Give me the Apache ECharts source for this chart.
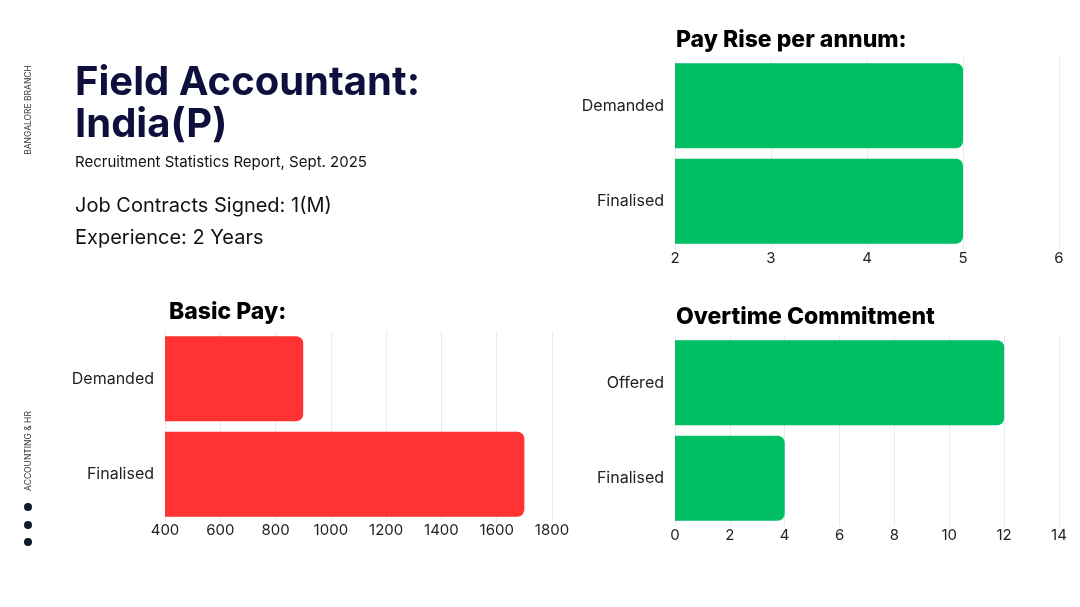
<!DOCTYPE html>
<html>
<head>
<meta charset="utf-8">
<script src="https://cdn.jsdelivr.net/npm/echarts@6/dist/echarts.min.js"></script>
<style>
  html, body { margin: 0; padding: 0; background: #fff; }
  #chart { width: 1080px; height: 607px; }
</style>
</head>
<body>
<div id="chart"></div>
<script>
// data
const payRiseCats = ['Demanded', 'Finalised'];
const payRiseValues = [5, 5];
const basicPayCats = ['Demanded', 'Finalised'];
const basicPayValues = [900, 1700];
const overtimeCats = ['Offered', 'Finalised'];
const overtimeValues = [12, 4];

const FONT = 'Inter, "Noto Sans", sans-serif';
const GREEN = '#00bf63';
const RED = '#ff3333';
const NAVY = '#0e0f3d';

function valueAxis(grid, min, max, interval, margin) {
    return {
        type: 'value', gridIndex: grid, min: min, max: max, interval: interval,
        axisLine: { show: false }, axisTick: { show: false },
        axisLabel: { color: '#222', fontSize: 15, fontFamily: FONT, margin: margin, formatter: (v) => String(v) },
        splitLine: { show: true, lineStyle: { color: '#ebebeb', width: 1 } }
    };
}
function catAxis(grid, cats) {
    return {
        type: 'category', gridIndex: grid, data: cats, inverse: true,
        axisLine: { show: false }, axisTick: { show: false },
        axisLabel: { color: '#222', fontSize: 16, fontFamily: FONT, margin: 11 }
    };
}
function barSeries(idx, values, color) {
    return {
        type: 'bar', xAxisIndex: idx, yAxisIndex: idx, data: values,
        barWidth: 85, itemStyle: { color: color, borderRadius: [0, 7, 7, 0] },
        silent: true
    };
}
function txt(x, y, text, size, weight, color, extra) {
    return Object.assign({
        type: 'text', x: x, y: y,
        style: { text: text, fontSize: size, fontWeight: weight, fontFamily: FONT, fill: color, textVerticalAlign: 'middle' }
    }, extra || {});
}

const chart = echarts.init(document.getElementById('chart'));
chart.setOption({
    animation: false,
    grid: [
        { left: 675, right: 21, top: 58, height: 191 },
        { left: 165, right: 528, top: 331, height: 191 },
        { left: 675, right: 21, top: 335, height: 191 }
    ],
    xAxis: [
        valueAxis(0, 2, 6, 1, 2),
        valueAxis(1, 400, 1800, 200, 1),
        valueAxis(2, 0, 14, 2, 2)
    ],
    yAxis: [
        catAxis(0, payRiseCats),
        catAxis(1, basicPayCats),
        catAxis(2, overtimeCats)
    ],
    series: [
        barSeries(0, payRiseValues, GREEN),
        barSeries(1, basicPayValues, RED),
        barSeries(2, overtimeValues, GREEN)
    ],
    graphic: [
        txt(75, 83, 'Field Accountant:', 40, 700, NAVY),
        txt(75, 125, 'India(P)', 40, 700, NAVY),
        txt(75, 162, 'Recruitment Statistics Report, Sept. 2025', 15, 400, '#111'),
        txt(75, 206, 'Job Contracts Signed: 1(M)', 20, 400, '#111'),
        txt(75, 238, 'Experience: 2 Years', 20, 400, '#111'),
        txt(676, 40, 'Pay Rise per annum:', 23, 800, '#000'),
        txt(169, 312, 'Basic Pay:', 23, 800, '#000'),
        txt(676, 317, 'Overtime Commitment', 23, 800, '#000'),
        {
            type: 'text', x: 28, y: 110, rotation: Math.PI / 2,
            style: { text: 'BANGALORE BRANCH', fontSize: 8.5, fontFamily: FONT, fill: '#333', align: 'center', verticalAlign: 'middle' }
        },
        {
            type: 'text', x: 28, y: 451, rotation: Math.PI / 2,
            style: { text: 'ACCOUNTING & HR', fontSize: 8.5, fontFamily: FONT, fill: '#333', align: 'center', verticalAlign: 'middle' }
        },
        { type: 'circle', shape: { cx: 28, cy: 507, r: 4 }, style: { fill: '#0d1b2e' } },
        { type: 'circle', shape: { cx: 28, cy: 525, r: 4 }, style: { fill: '#0d1b2e' } },
        { type: 'circle', shape: { cx: 28, cy: 542, r: 4 }, style: { fill: '#0d1b2e' } }
    ]
});
</script>
</body>
</html>
